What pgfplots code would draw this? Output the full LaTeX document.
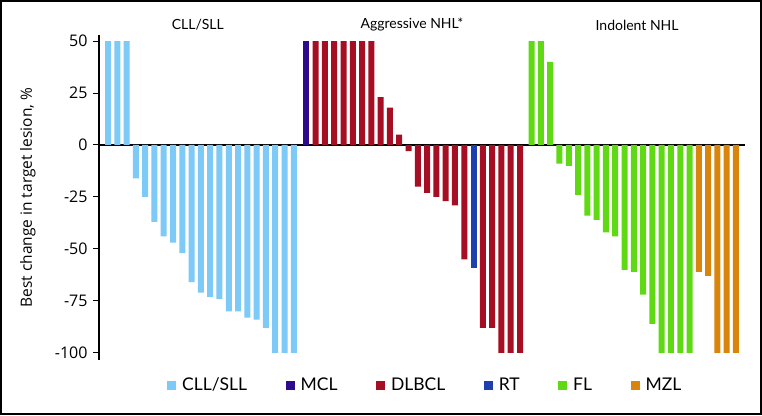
\documentclass[border=0pt]{standalone}
\usepackage{pgfplots}
\pgfplotsset{compat=1.18}
\usepackage{fontspec}
\setmainfont{Lato}
\newfontfamily\osans{Open Sans}
\definecolor{cll}{HTML}{7DC9F8}
\definecolor{mcl}{HTML}{2E0A8C}
\definecolor{dlbcl}{HTML}{A50E23}
\definecolor{rt}{HTML}{1E3FAE}
\definecolor{fl}{HTML}{5FD914}
\definecolor{mzl}{HTML}{D9840A}
\begin{document}
\begin{tikzpicture}
\useasboundingbox (0,0) rectangle (762pt,415pt);
\draw[line width=2pt] (1pt,1pt) rectangle (761pt,414pt);
\begin{axis}[
  at={(99pt,55pt)}, anchor=south west,
  scale only axis, width=646pt, height=325pt,
  xmin=-0.97, xmax=68.57, ymin=-103.4, ymax=52.9,
  axis x line=middle, axis y line=left,
  axis line style={-, line width=1.3pt, black},
  xtick=\empty,
  ytick={-100,-75,-50,-25,0,25,50},
  tick align=outside, major tick length=6pt,
  tick style={line width=1pt, black},
  /pgf/number format/assume math mode=true,
  yticklabel style={font=\osans\fontsize{16}{16}\selectfont, xshift=-2pt},
  ylabel={Best change in target lesion, \%},
  every axis y label/.style={at={(axis description cs:-0.11,0.5)}, rotate=90, anchor=center, font=\osans\fontsize{15.5}{16}\selectfont},
  clip=false,
  legend image code/.code={\fill[#1] (0pt,-4.5pt) rectangle (9pt,4.5pt); \path (13pt,0pt);},
  legend style={at={(axis description cs:0.505,-0.077)}, anchor=center, draw=none, fill=none,
    legend columns=6, font=\fontsize{17.5}{17.5}\selectfont,
    /tikz/every even column/.append style={column sep=36.5pt}},
]
\addplot[ybar, bar width=6pt, bar shift=0pt, fill=cll, draw=none] coordinates {
(0,50) (1,50) (2,50) (3,-16) (4,-25) (5,-37) (6,-44) (7,-47) (8,-52) (9,-66) (10,-71)
(11,-73) (12,-74) (13,-80) (14,-80) (15,-83) (16,-84) (17,-88) (18,-100) (19,-100) (20,-100)};
\addlegendentry{CLL/SLL}
\addplot[ybar, bar width=6pt, bar shift=0pt, fill=mcl, draw=none] coordinates {(21.35,50)};
\addlegendentry{MCL}
\addplot[ybar, bar width=6pt, bar shift=0pt, fill=dlbcl, draw=none] coordinates {
(22.35,50) (23.35,50) (24.35,50) (25.35,50) (26.35,50) (27.35,50) (28.35,50)
(29.35,23) (30.35,18) (31.35,5) (32.35,-3) (33.35,-20) (34.35,-23) (35.35,-25)
(36.35,-27) (37.35,-29) (38.35,-55) (40.35,-88) (41.35,-88) (42.35,-100) (43.35,-100) (44.35,-100)};
\addlegendentry{DLBCL}
\addplot[ybar, bar width=6pt, bar shift=0pt, fill=rt, draw=none] coordinates {(39.35,-59)};
\addlegendentry{RT}
\addplot[ybar, bar width=6pt, bar shift=0pt, fill=fl, draw=none] coordinates {
(45.6,50) (46.6,50) (47.6,40) (48.6,-9) (49.6,-10) (50.6,-24) (51.6,-34) (52.6,-36)
(53.6,-42) (54.6,-44) (55.6,-60) (56.6,-61) (57.6,-72) (58.6,-86) (59.6,-100) (60.6,-100) (61.6,-100) (62.6,-100)};
\addlegendentry{FL}
\addplot[ybar, bar width=6pt, bar shift=0pt, fill=mzl, draw=none] coordinates {
(63.6,-61) (64.6,-63) (65.6,-100) (66.6,-100) (67.6,-100)};
\addlegendentry{MZL}
\node[font=\fontsize{14}{15}\selectfont] at (axis description cs:0.153,1.031) {CLL/SLL};
\node[font=\fontsize{14}{15}\selectfont] at (axis description cs:0.4845,1.031) {Aggressive NHL*};
\node[font=\fontsize{14}{15}\selectfont] at (axis description cs:0.833,1.031) {Indolent NHL};
\end{axis}
\end{tikzpicture}
\end{document}
